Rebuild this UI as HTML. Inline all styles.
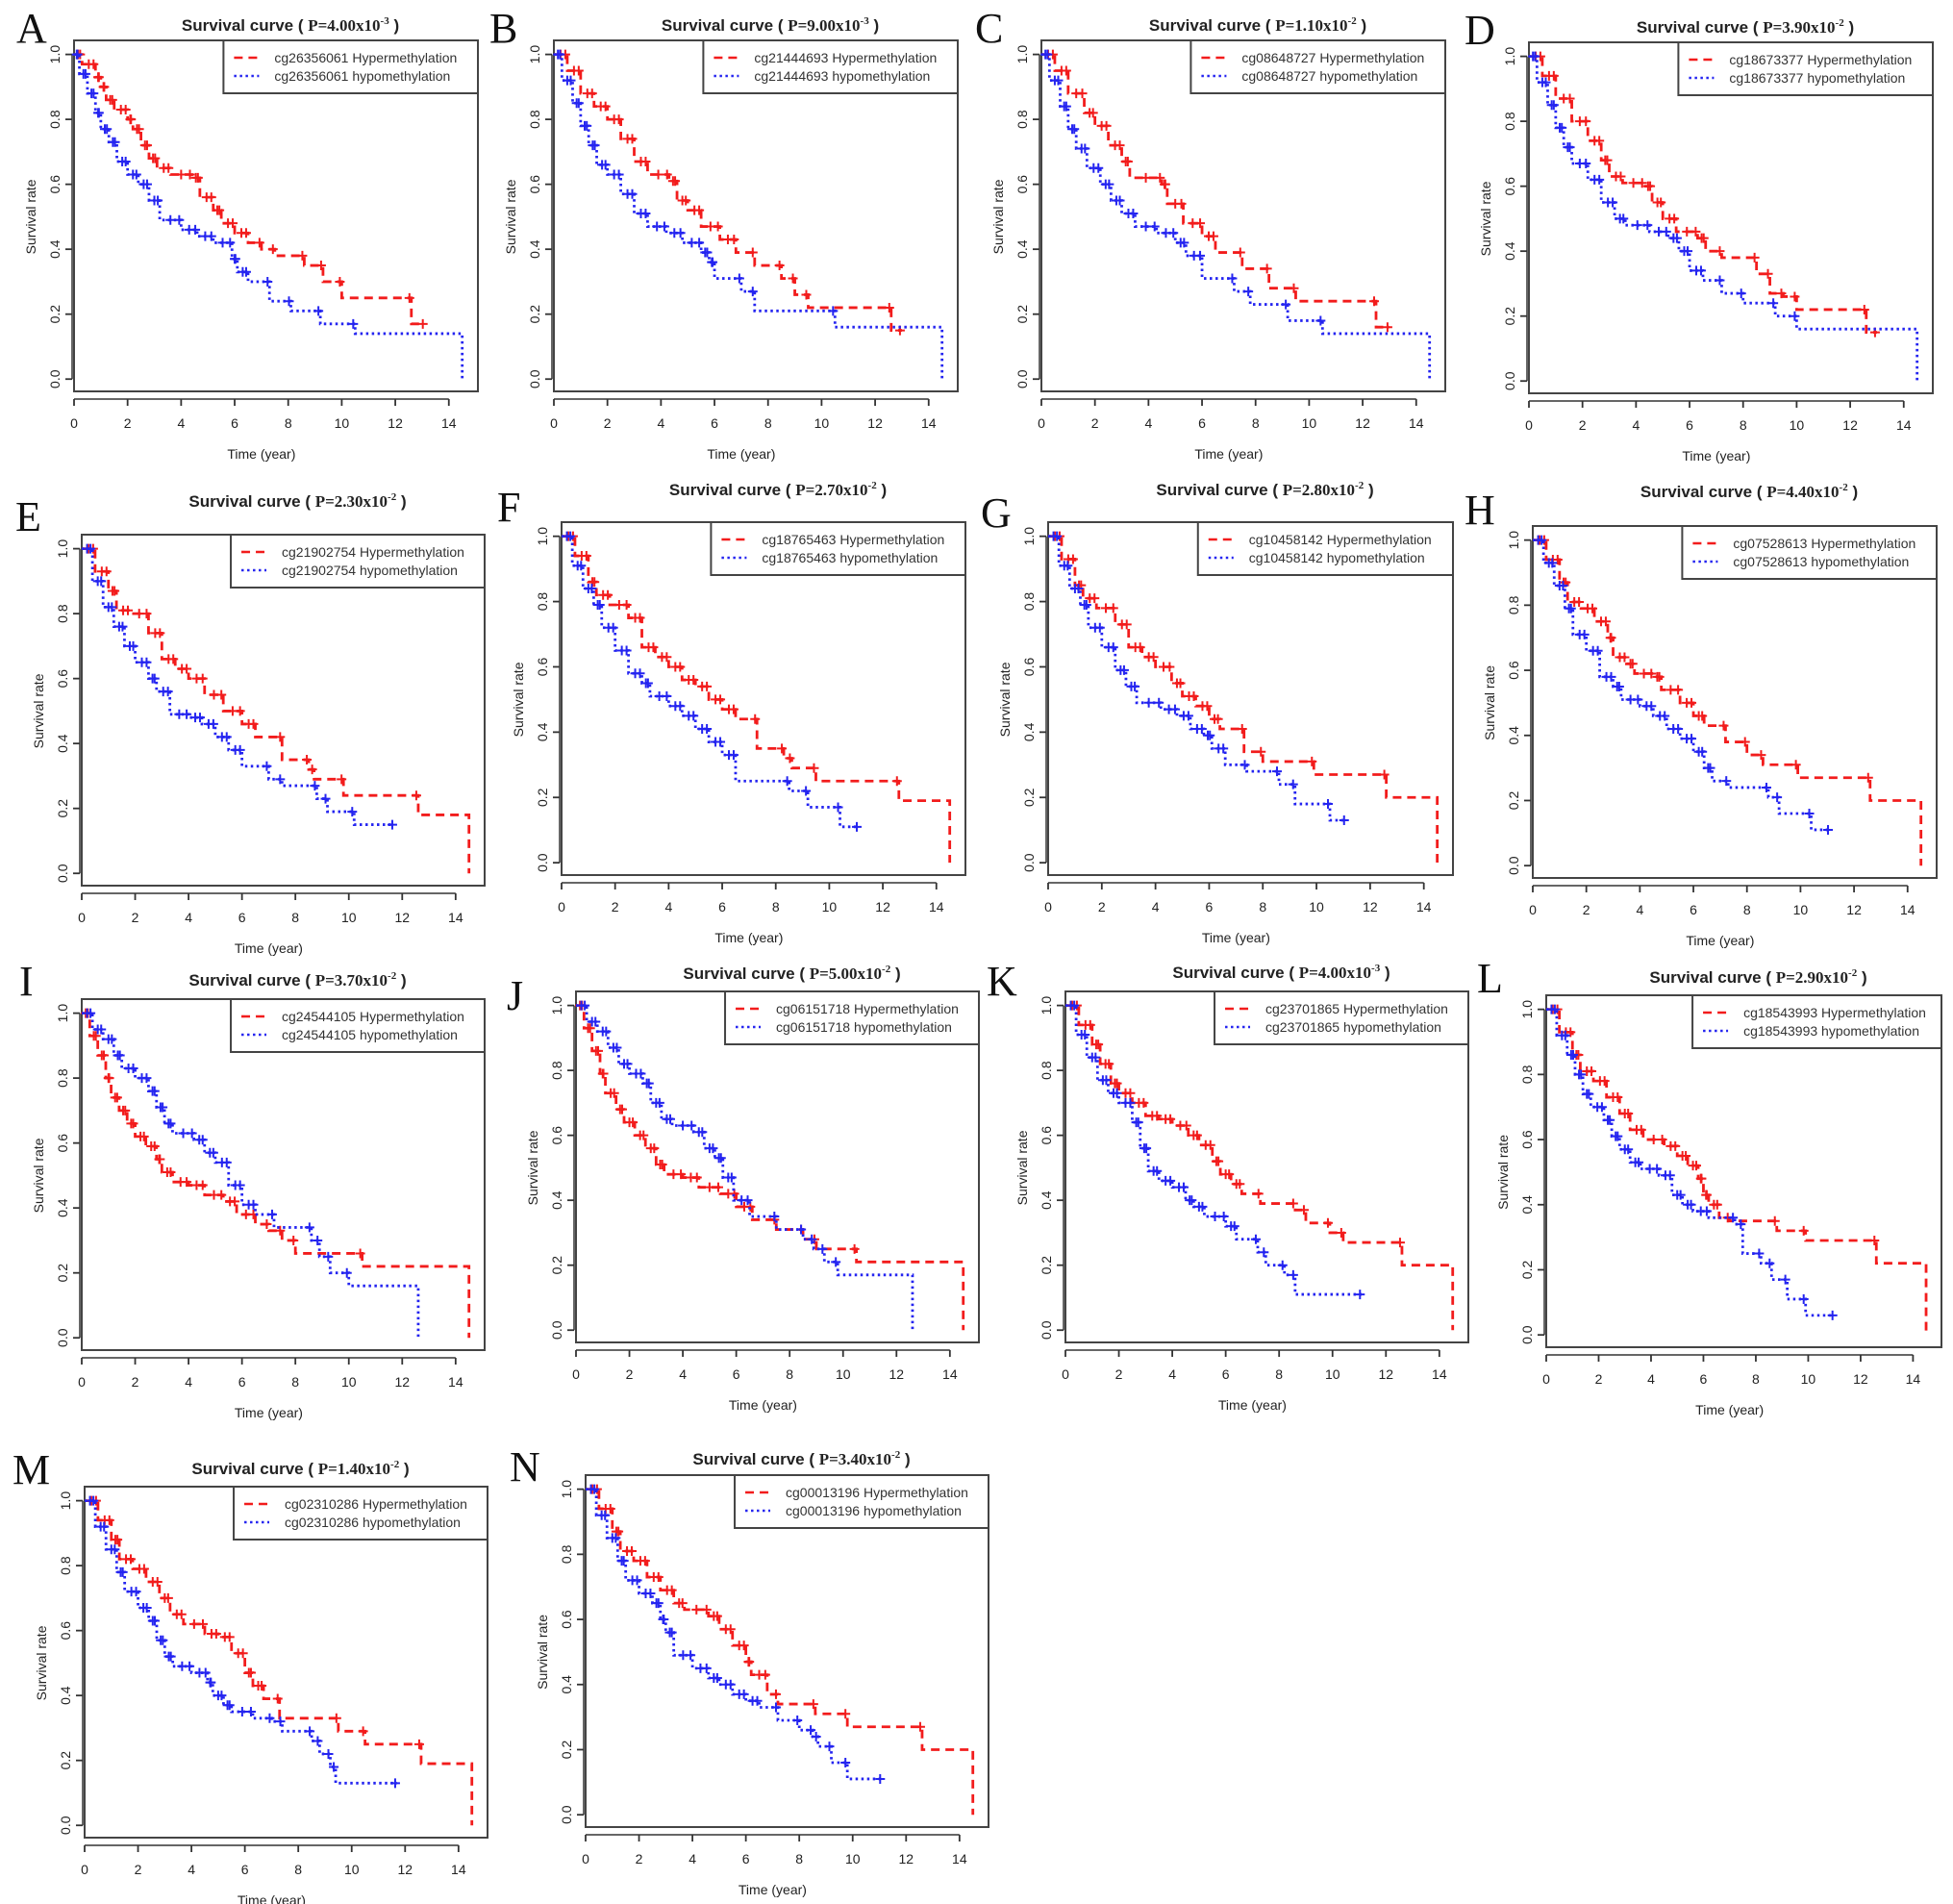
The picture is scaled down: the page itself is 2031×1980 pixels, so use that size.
<!DOCTYPE html>
<html><head><meta charset="utf-8"><style>
html,body{margin:0;padding:0;background:#fff}
svg{display:block}
</style></head><body>
<svg id="fig" width="2031" height="1980" viewBox="0 0 2031 1980" xmlns="http://www.w3.org/2000/svg"></svg>
<script>
// ---- data (time in years, survival rate) ----
const A_hyperT=[0,0.3,0.8,1.0,1.2,1.5,2.0,2.2,2.5,2.8,3.1,3.6,4.4,4.7,5.2,5.5,6.0,6.5,7.0,7.5,8.6,9.3,10.0,12.6,13.1];
const A_hyperS=[1,0.97,0.93,0.9,0.86,0.83,0.8,0.77,0.72,0.68,0.65,0.63,0.62,0.56,0.52,0.48,0.45,0.42,0.40,0.38,0.35,0.30,0.25,0.17,0.17];
const A_hypoT=[0,0.2,0.5,0.8,1.0,1.3,1.6,2.0,2.4,2.8,3.2,4.0,4.6,5.2,5.9,6.1,6.5,7.3,8.1,9.2,10.5,14.5];
const A_hypoS=[1,0.94,0.88,0.82,0.77,0.73,0.67,0.63,0.60,0.55,0.49,0.46,0.44,0.42,0.37,0.33,0.30,0.24,0.21,0.17,0.14,0];
const B_hyperT=[0,0.5,1.0,1.5,2.0,2.5,3.0,3.5,4.3,4.6,5.0,5.5,6.2,6.8,7.5,8.5,9.0,9.5,12.6,13.0];
const B_hyperS=[1,0.95,0.88,0.84,0.80,0.74,0.67,0.63,0.61,0.55,0.52,0.47,0.43,0.39,0.35,0.31,0.26,0.22,0.15,0.15];
const B_hypoT=[0,0.3,0.7,1.0,1.3,1.6,2.0,2.5,3.0,3.5,4.2,4.8,5.5,5.8,6.0,7.0,7.5,10.5,14.5];
const B_hypoS=[1,0.92,0.85,0.78,0.72,0.66,0.63,0.57,0.51,0.47,0.45,0.42,0.39,0.36,0.31,0.27,0.21,0.16,0];
const C_hyperT=[0,0.5,1.0,1.6,2.0,2.5,3.0,3.3,4.5,4.7,5.3,6.0,6.5,7.5,8.5,9.5,12.5,13.0];
const C_hyperS=[1,0.95,0.88,0.82,0.78,0.72,0.67,0.62,0.60,0.54,0.48,0.44,0.39,0.34,0.28,0.24,0.16,0.16];
const C_hypoT=[0,0.3,0.7,1.0,1.3,1.7,2.2,2.6,3.0,3.5,4.3,5.0,5.4,6.0,7.2,7.8,9.2,10.5,14.5];
const C_hypoS=[1,0.92,0.84,0.77,0.71,0.65,0.60,0.55,0.51,0.47,0.45,0.42,0.38,0.31,0.27,0.23,0.18,0.14,0];
const D_hyperT=[0,0.5,1.0,1.6,2.2,2.7,3.0,3.5,4.3,4.6,5.0,5.5,6.3,6.6,7.2,8.5,9.0,9.5,10.0,12.6,13.0];
const D_hyperS=[1,0.94,0.87,0.80,0.74,0.68,0.63,0.61,0.60,0.55,0.50,0.46,0.44,0.40,0.38,0.33,0.27,0.26,0.22,0.15,0.15];
const D_hypoT=[0,0.3,0.7,1.0,1.3,1.6,2.2,2.7,3.2,3.6,4.5,5.2,5.6,6.0,6.5,7.2,8.0,9.2,10.0,14.5];
const D_hypoS=[1,0.92,0.85,0.78,0.72,0.67,0.62,0.55,0.50,0.48,0.46,0.44,0.40,0.34,0.31,0.27,0.24,0.20,0.16,0];
const E_hyperT=[0,0.5,1.0,1.3,1.8,2.5,3.0,3.5,4.0,4.6,5.3,6.0,6.5,7.5,8.5,8.7,9.8,12.6,14.5];
const E_hyperS=[1,0.93,0.87,0.81,0.80,0.74,0.66,0.63,0.60,0.55,0.50,0.46,0.42,0.35,0.32,0.29,0.24,0.18,0];
const E_hypoT=[0,0.4,0.8,1.2,1.6,2.0,2.5,2.8,3.3,4.0,4.5,5.0,5.5,6.0,7.0,7.5,8.8,9.2,10.2,11.7];
const E_hypoS=[1,0.90,0.82,0.76,0.70,0.65,0.60,0.56,0.49,0.48,0.46,0.42,0.38,0.33,0.29,0.27,0.23,0.19,0.15,0.15];
const F_hyperT=[0,0.5,1.0,1.3,1.8,2.5,3.0,3.5,4.0,4.5,5.0,5.5,6.0,6.5,7.3,8.3,8.6,9.5,12.6,14.5];
const F_hyperS=[1,0.94,0.86,0.82,0.79,0.75,0.66,0.63,0.60,0.56,0.54,0.50,0.47,0.44,0.35,0.32,0.29,0.25,0.19,0];
const F_hypoT=[0,0.4,0.8,1.2,1.5,2.0,2.5,3.0,3.3,4.0,4.5,5.0,5.5,6.0,6.5,8.5,9.2,10.4,11.1];
const F_hypoS=[1,0.91,0.84,0.79,0.72,0.65,0.58,0.55,0.51,0.48,0.45,0.41,0.37,0.33,0.25,0.22,0.17,0.11,0.11];
const G_hyperT=[0,0.5,1.0,1.3,1.8,2.5,3.0,3.5,4.0,4.6,5.0,5.5,6.0,6.4,7.3,8.0,9.9,12.6,14.5];
const G_hyperS=[1,0.93,0.85,0.81,0.78,0.73,0.66,0.63,0.60,0.55,0.51,0.48,0.44,0.41,0.34,0.31,0.27,0.20,0];
const G_hypoT=[0,0.4,0.8,1.2,1.5,2.0,2.5,2.9,3.3,4.2,4.8,5.3,5.8,6.1,6.6,7.4,8.6,9.2,10.5,11.1];
const G_hypoS=[1,0.91,0.84,0.79,0.72,0.66,0.59,0.54,0.49,0.47,0.45,0.41,0.39,0.35,0.30,0.28,0.24,0.18,0.13,0.13];
const H_hyperT=[0,0.5,1.0,1.3,1.8,2.3,2.8,3.0,3.5,3.8,4.5,4.8,5.5,6.0,6.4,7.2,8.0,8.6,9.9,12.6,14.5];
const H_hyperS=[1,0.94,0.87,0.81,0.79,0.75,0.70,0.64,0.62,0.59,0.58,0.54,0.50,0.46,0.43,0.38,0.34,0.31,0.27,0.20,0];
const H_hypoT=[0,0.4,0.8,1.2,1.5,2.0,2.5,3.0,3.3,4.0,4.5,5.0,5.5,6.0,6.4,6.7,7.3,8.8,9.2,10.4,11.1];
const H_hypoS=[1,0.93,0.86,0.79,0.71,0.66,0.58,0.55,0.51,0.49,0.46,0.42,0.39,0.35,0.30,0.26,0.24,0.21,0.16,0.11,0.11];
const I_hyperT=[0,0.3,0.6,0.9,1.1,1.4,1.7,2.0,2.4,2.8,3.0,3.4,4.0,4.6,5.3,5.8,6.5,7.0,7.5,8.0,10.5,14.5];
const I_hyperS=[1,0.93,0.87,0.80,0.74,0.70,0.66,0.62,0.59,0.55,0.51,0.48,0.47,0.44,0.42,0.38,0.35,0.33,0.30,0.26,0.22,0];
const I_hypoT=[0,0.4,0.8,1.2,1.5,2.0,2.5,2.8,3.1,3.4,4.2,4.6,5.0,5.5,6.0,6.5,7.2,8.6,8.9,9.3,10.0,12.6];
const I_hypoS=[1,0.95,0.92,0.87,0.83,0.80,0.76,0.71,0.66,0.63,0.61,0.57,0.54,0.47,0.41,0.38,0.34,0.30,0.25,0.20,0.16,0];
const J_hyperT=[0,0.3,0.6,0.9,1.1,1.5,1.8,2.2,2.6,3.0,3.3,4.0,4.6,5.4,6.0,6.6,7.5,8.5,9.0,10.5,14.5];
const J_hyperS=[1,0.93,0.86,0.79,0.73,0.68,0.64,0.60,0.56,0.51,0.48,0.47,0.44,0.42,0.38,0.34,0.31,0.28,0.25,0.21,0];
const J_hypoT=[0,0.4,0.8,1.2,1.6,2.0,2.5,2.8,3.2,3.6,4.4,4.8,5.2,5.5,5.9,6.5,7.5,8.5,8.9,9.3,9.8,12.6];
const J_hypoS=[1,0.95,0.92,0.87,0.82,0.79,0.76,0.70,0.65,0.63,0.61,0.56,0.53,0.47,0.40,0.35,0.31,0.28,0.25,0.21,0.17,0];
const K_hyperT=[0,0.5,1.0,1.3,1.7,2.0,2.5,3.0,3.5,4.0,4.6,5.0,5.5,5.8,6.2,6.6,7.3,8.6,9.0,9.9,10.4,12.6,14.5];
const K_hyperS=[1,0.94,0.88,0.82,0.76,0.73,0.70,0.66,0.65,0.63,0.60,0.57,0.52,0.48,0.45,0.42,0.39,0.37,0.33,0.30,0.27,0.20,0];
const K_hypoT=[0,0.4,0.8,1.2,1.6,2.0,2.5,2.8,3.1,3.5,4.0,4.5,4.8,5.2,6.0,6.4,7.2,7.5,8.2,8.6,11.1];
const K_hypoS=[1,0.91,0.84,0.77,0.73,0.70,0.64,0.56,0.49,0.46,0.44,0.40,0.38,0.35,0.32,0.28,0.24,0.20,0.17,0.11,0.11];
const L_hyperT=[0,0.5,1.0,1.3,1.8,2.3,2.8,3.2,3.7,4.5,5.0,5.4,5.8,6.0,6.2,6.6,7.0,8.8,9.9,12.6,14.5];
const L_hyperS=[1,0.93,0.86,0.81,0.78,0.73,0.68,0.63,0.60,0.58,0.55,0.52,0.48,0.43,0.40,0.36,0.35,0.32,0.29,0.22,0];
const L_hypoT=[0,0.4,0.8,1.1,1.4,1.7,2.2,2.5,2.8,3.2,3.6,4.3,4.8,5.2,5.6,6.2,7.2,7.5,8.2,8.6,9.2,9.9,11.0];
const L_hypoS=[1,0.92,0.86,0.80,0.74,0.70,0.66,0.61,0.57,0.53,0.51,0.49,0.43,0.40,0.38,0.36,0.34,0.25,0.22,0.17,0.11,0.06,0.06];
const M_hyperT=[0,0.5,1.0,1.3,1.8,2.3,2.8,3.2,3.7,4.5,5.0,5.5,6.0,6.3,6.7,7.3,9.5,10.5,12.6,14.5];
const M_hyperS=[1,0.94,0.88,0.82,0.79,0.75,0.70,0.65,0.62,0.59,0.58,0.53,0.47,0.43,0.39,0.33,0.29,0.25,0.19,0];
const M_hypoT=[0,0.4,0.8,1.2,1.5,2.0,2.4,2.7,3.0,3.3,4.0,4.6,4.8,5.2,5.5,6.3,7.0,7.4,8.5,8.8,9.2,9.4,11.7];
const M_hypoS=[1,0.92,0.85,0.78,0.72,0.67,0.63,0.57,0.52,0.49,0.47,0.44,0.40,0.37,0.35,0.33,0.32,0.29,0.26,0.22,0.18,0.13,0.13];
const N_hyperT=[0,0.5,1.0,1.3,1.8,2.3,2.8,3.3,3.7,4.6,5.0,5.5,6.0,6.2,6.8,7.2,8.6,9.8,12.6,14.5];
const N_hyperS=[1,0.94,0.87,0.81,0.78,0.73,0.69,0.65,0.63,0.61,0.57,0.52,0.47,0.43,0.37,0.34,0.31,0.27,0.20,0];
const N_hypoT=[0,0.4,0.8,1.2,1.5,2.0,2.5,2.8,3.0,3.3,4.0,4.6,5.0,5.5,6.0,6.5,7.2,8.0,8.5,8.7,9.2,9.8,11.1];
const N_hypoS=[1,0.92,0.85,0.78,0.72,0.68,0.65,0.60,0.56,0.49,0.45,0.42,0.40,0.37,0.35,0.33,0.29,0.26,0.24,0.21,0.16,0.11,0.11];

const panelLetters=['A','B','C','D','E','F','G','H','I','J','K','L','M','N'];
const probeIds=['cg26356061','cg21444693','cg08648727','cg18673377','cg21902754','cg18765463','cg10458142','cg07528613','cg24544105','cg06151718','cg23701865','cg18543993','cg02310286','cg00013196'];
const pMantissa=['4.00','9.00','1.10','3.90','2.30','2.70','2.80','4.40','3.70','5.00','4.00','2.90','1.40','3.40'];
const pExponent=['-3','-3','-2','-2','-2','-2','-2','-2','-2','-2','-3','-2','-2','-2'];
const xTicks=[0,2,4,6,8,10,12,14];
const yTicks=[0,0.2,0.4,0.6,0.8,1.0];
const yTickLabels=['0.0','0.2','0.4','0.6','0.8','1.0'];

// ---- layout (pixel geometry, not data) ----
const layout=[
 {l:77,r:497,t:42,b:407,ty:32,lx:17,ly:44},
 {l:576,r:996,t:42,b:407,ty:32,lx:509,ly:44},
 {l:1083,r:1503,t:42,b:407,ty:32,lx:1014,ly:44},
 {l:1590,r:2010,t:44,b:409,ty:34,lx:1523,ly:46},
 {l:85,r:504,t:556,b:921,ty:527,lx:16,ly:552},
 {l:584,r:1004,t:543,b:910,ty:515,lx:517,ly:542},
 {l:1090,r:1511,t:543,b:910,ty:515,lx:1020,ly:548},
 {l:1594,r:2014,t:547,b:913,ty:517,lx:1523,ly:545},
 {l:85,r:504,t:1039,b:1404,ty:1025,lx:20,ly:1035},
 {l:599,r:1018,t:1031,b:1396,ty:1018,lx:527,ly:1050},
 {l:1108,r:1527,t:1031,b:1396,ty:1017,lx:1026,ly:1035},
 {l:1608,r:2019,t:1035,b:1401,ty:1022,lx:1536,ly:1032},
 {l:88,r:507,t:1546,b:1911,ty:1533,lx:13,ly:1543},
 {l:609,r:1028,t:1534,b:1900,ty:1523,lx:530,ly:1540}
];
const seriesData={A:[A_hyperT,A_hyperS,A_hypoT,A_hypoS],B:[B_hyperT,B_hyperS,B_hypoT,B_hypoS],C:[C_hyperT,C_hyperS,C_hypoT,C_hypoS],D:[D_hyperT,D_hyperS,D_hypoT,D_hypoS],E:[E_hyperT,E_hyperS,E_hypoT,E_hypoS],F:[F_hyperT,F_hyperS,F_hypoT,F_hypoS],G:[G_hyperT,G_hyperS,G_hypoT,G_hypoS],H:[H_hyperT,H_hyperS,H_hypoT,H_hypoS],I:[I_hyperT,I_hyperS,I_hypoT,I_hypoS],J:[J_hyperT,J_hyperS,J_hypoT,J_hypoS],K:[K_hyperT,K_hyperS,K_hypoT,K_hypoS],L:[L_hyperT,L_hyperS,L_hypoT,L_hypoS],M:[M_hyperT,M_hyperS,M_hypoT,M_hypoS],N:[N_hyperT,N_hyperS,N_hypoT,N_hypoS]};

const NS='http://www.w3.org/2000/svg';
const svg=document.getElementById('fig');
function mk(tag,attrs,parent){const e=document.createElementNS(NS,tag);for(const k in attrs)e.setAttribute(k,attrs[k]);parent.appendChild(e);return e;}
const SANS='"Liberation Sans", Arial, sans-serif', SERIF='"Liberation Serif", "Times New Roman", serif';
const RED='#f21c1c', BLUE='#2424f0';

panelLetters.forEach((L,i)=>{
  const g=layout[i];
  const W=g.r-g.l,H=g.b-g.t;
  const x0=g.l, pxYr=0.928*W/14;
  const y0=g.b-0.035*H, y1=g.t+0.04*H;
  const sx=t=>x0+t*pxYr;
  const sy=v=>y0-v*(y0-y1);
  const grp=mk('g',{},svg);
  
  

  const letter=mk('text',{x:g.lx,y:g.ly,'font-family':SERIF,'font-size':44,fill:'#111'},grp);
  
  
  letter.textContent=L;

  const title=mk('text',{x:(g.l+g.r)/2+15,y:g.ty,'text-anchor':'middle','font-size':17,'font-weight':'bold','font-family':SANS,fill:'#222'},grp);
  
  
  const s1=mk('tspan',{},title);s1.textContent='Survival curve ( ';
  const s2=mk('tspan',{'font-family':SERIF},title);s2.textContent='P='+pMantissa[i]+'x10';
  const s3=mk('tspan',{'font-family':SERIF,'font-size':11,dy:-7},title);s3.textContent=pExponent[i];
  const s4=mk('tspan',{dy:7},title);s4.textContent=' )';

  const box=mk('rect',{x:g.l,y:g.t,width:W,height:H,fill:'none',stroke:'#444','stroke-width':2},grp);
  
  

  const xa=mk('g',{},grp);
  
  
  const ay=g.b+8;
  mk('line',{x1:sx(xTicks[0]),x2:sx(xTicks[xTicks.length-1]),y1:ay,y2:ay,stroke:'#333','stroke-width':1.5},xa);
  xTicks.forEach(t=>{
    mk('line',{x1:sx(t),x2:sx(t),y1:ay,y2:ay+7,stroke:'#333','stroke-width':1.8},xa);
    const tl=mk('text',{x:sx(t),y:ay+30,'text-anchor':'middle','font-size':14,'font-family':SANS,fill:'#222'},xa);
    
    
    tl.textContent=t;
  });
  const xt=mk('text',{x:(sx(0)+sx(14))/2,y:g.b+70,'text-anchor':'middle','font-size':14,'font-family':SANS,fill:'#222'},xa);
  
  
  xt.textContent='Time (year)';

  const ya=mk('g',{},grp);
  
  
  const axx=g.l-2;
  mk('line',{x1:axx,x2:axx,y1:sy(0),y2:sy(1),stroke:'#333','stroke-width':1.5},ya);
  yTicks.forEach((v,k)=>{
    mk('line',{x1:axx-7,x2:axx,y1:sy(v),y2:sy(v),stroke:'#333','stroke-width':1.8},ya);
    const tl=mk('text',{x:0,y:0,'text-anchor':'middle','font-size':14,'font-family':SANS,fill:'#222',transform:`translate(${axx-13},${sy(v)}) rotate(-90)`},ya);
    
    
    tl.textContent=yTickLabels[k];
  });
  const yt=mk('text',{x:0,y:0,'text-anchor':'middle','font-size':14,'font-family':SANS,fill:'#222',transform:`translate(${g.l-40},${(sy(0)+sy(1))/2}) rotate(-90)`},ya);
  
  
  yt.textContent='Survival rate';

  const d=seriesData[L];
  const defs=[[d[0],d[1],RED,'9,6','hyper'],[d[2],d[3],BLUE,'2.5,3.5','hypo']];
  defs.forEach(([T,S,col,dash,nm])=>{
    let p='M'+sx(T[0])+','+sy(S[0]);
    for(let k=1;k<T.length;k++){p+=' H'+sx(T[k])+' V'+sy(S[k]);}
    const sg=mk('g',{},grp);
    
    
    const path=mk('path',{d:p,fill:'none',stroke:col,'stroke-width':2.8,'stroke-dasharray':dash},sg);
    
    
    for(let k=1;k<T.length;k++){
      if(S[k]===0)continue;
      const cy=sy(S[k-1]);
      const xs=[sx(T[k])-2];
      if(T[k]<7) xs.push((sx(T[k-1])+sx(T[k]))/2);
      xs.forEach(cx=>{
        const m=mk('path',{d:`M${cx-5},${cy} H${cx+5} M${cx},${cy-5} V${cy+5}`,stroke:col,'stroke-width':2},sg);
        
        
      });
    }
  });

  const lg=mk('g',{},grp);
  
  
  const lx=g.l+0.37*W;
  mk('rect',{x:lx,y:g.t,width:g.r-lx,height:55,fill:'#fff',stroke:'#444','stroke-width':2},lg);
  [[RED,'9,6',' Hypermethylation',18],[BLUE,'2.5,3.5',' hypomethylation',37]].forEach(([col,dash,lab,dy])=>{
    const e=mk('g',{},lg);
    
    
    mk('line',{x1:lx+11,x2:lx+37,y1:g.t+dy,y2:g.t+dy,stroke:col,'stroke-width':2.6,'stroke-dasharray':dash},e);
    const tx=mk('text',{x:lx+53,y:g.t+dy+5,'font-size':14,'font-family':SANS,fill:'#333'},e);
    tx.textContent=probeIds[i]+lab;
  });
});
</script>
</body></html>
